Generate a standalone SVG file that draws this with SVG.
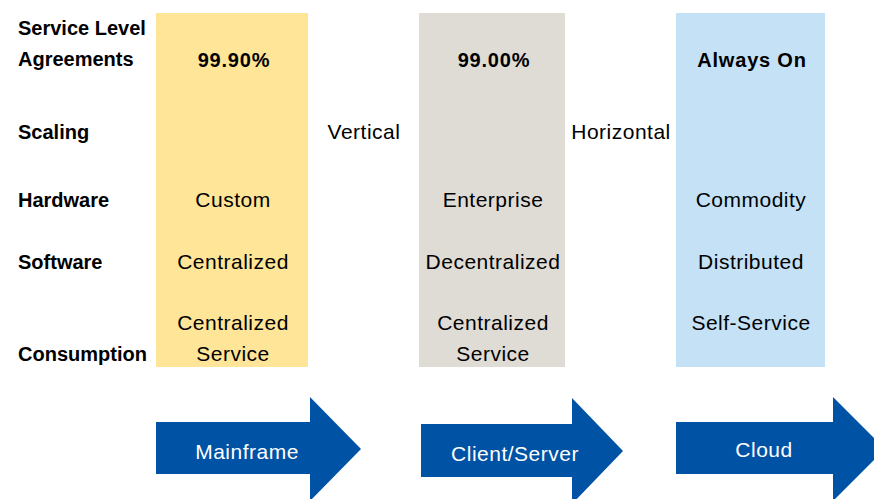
<svg xmlns="http://www.w3.org/2000/svg" width="874" height="499" viewBox="0 0 874 499">
<style>
text{font-family:"Liberation Sans",Arial,sans-serif;font-size:21px;fill:#000;letter-spacing:0.5px}
.b{font-weight:bold;font-size:20px;letter-spacing:0}
.bc{font-weight:bold;font-size:20px;letter-spacing:0.8px}
.c{text-anchor:middle}
.w{fill:#fff;text-anchor:middle}
.arrow{fill:#0052A5}
</style>
<rect width="874" height="499" fill="#fff"/>
<g id="labels">
<text class="b" x="18" y="35">Service Level</text>
<text class="b" x="18" y="66">Agreements</text>
<text class="b" x="18" y="139">Scaling</text>
<text class="b" x="18" y="207">Hardware</text>
<text class="b" x="18" y="269">Software</text>
<text class="b" x="18" y="361">Consumption</text>
</g>
<g id="col-mainframe">
<rect x="156" y="13" width="152" height="354" fill="#FFE597"/>
<text class="bc c" x="234" y="67">99.90%</text>
<text class="c" x="233" y="207">Custom</text>
<text class="c" x="233" y="269">Centralized</text>
<text class="c" x="233" y="330">Centralized</text>
<text class="c" x="233" y="361">Service</text>
</g>
<g id="col-clientserver">
<rect x="419" y="13" width="146" height="354" fill="#DFDBD5"/>
<text class="bc c" x="494" y="67">99.00%</text>
<text class="c" x="493" y="207">Enterprise</text>
<text class="c" x="493" y="269">Decentralized</text>
<text class="c" x="493" y="330">Centralized</text>
<text class="c" x="493" y="361">Service</text>
</g>
<g id="col-cloud">
<rect x="676" y="13" width="149" height="354" fill="#C4E1F6"/>
<text class="bc c" x="752" y="67">Always On</text>
<text class="c" x="751" y="207">Commodity</text>
<text class="c" x="751" y="269">Distributed</text>
<text class="c" x="751" y="330">Self-Service</text>
</g>
<g id="scaling">
<text class="c" x="364" y="139">Vertical</text>
<text class="c" x="621" y="139">Horizontal</text>
</g>
<g id="connectors">
<g id="arrow-mainframe">
<path class="arrow" d="M156,422 H310 V397 L361,449 L310,501 V474 H156 Z"/>
<text class="w" x="247" y="459">Mainframe</text>
</g>
<g id="arrow-clientserver">
<path class="arrow" d="M421,424 H572 V398 L623,451 L572,504 V477 H421 Z"/>
<text class="w" x="515" y="461">Client/Server</text>
</g>
<g id="arrow-cloud">
<path class="arrow" d="M676,422 H833 V397 L885,449 L833,501 V474 H676 Z"/>
<text class="w" x="764" y="457">Cloud</text>
</g>
</g>
</svg>
